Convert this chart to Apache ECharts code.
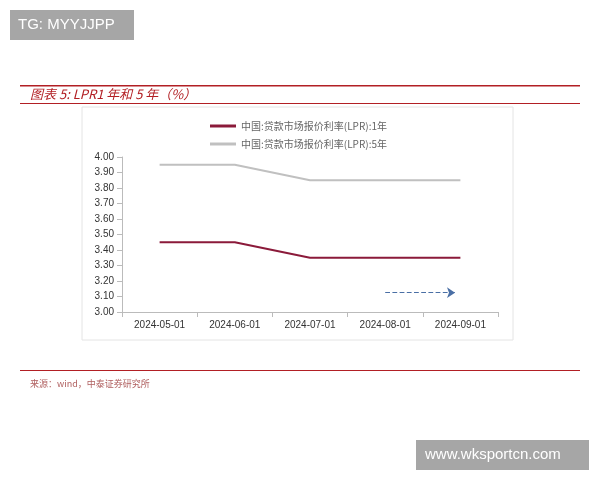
<!DOCTYPE html>
<html><head><meta charset="utf-8">
<script src="https://cdn.jsdelivr.net/npm/echarts@6/dist/echarts.min.js"></script>
<style>body{margin:0;background:#fff}#c{width:600px;height:480px}</style>
</head><body><div id="c"></div>
<script>
const categories = ["2024-05-01", "2024-06-01", "2024-07-01", "2024-08-01", "2024-09-01"];
const lpr1y = [3.45, 3.45, 3.35, 3.35, 3.35];
const lpr5y = [3.95, 3.95, 3.85, 3.85, 3.85];
const name1 = "中国:贷款市场报价利率(LPR):1年";
const name5 = "中国:贷款市场报价利率(LPR):5年";

const chart = echarts.init(document.getElementById("c"));
chart.setOption({
	animation: false,
	grid: { left: 122, right: 102, top: 157, bottom: 168 },
	legend: {
		top: 116, left: 205, orient: "vertical", itemGap: 8, itemWidth: 26, itemHeight: 3,
		icon: "rect",
		textStyle: { fontSize: 10, color: "#666", fontFamily: "Noto Sans CJK SC" },
		data: [name1, name5]
	},
	xAxis: {
		type: "category", data: categories, boundaryGap: true,
		axisLine: { lineStyle: { color: "#bbb" } },
		axisTick: { show: true, alignWithLabel: false, lineStyle: { color: "#bbb" } },
		axisLabel: { fontSize: 10, color: "#333", margin: 8 }
	},
	yAxis: {
		type: "value", min: 3.0, max: 4.0, interval: 0.1,
		axisLine: { show: true, lineStyle: { color: "#bbb" } },
		axisTick: { show: true, lineStyle: { color: "#bbb" } },
		splitLine: { show: false },
		axisLabel: { fontSize: 10, color: "#333", formatter: v => v.toFixed(2) }
	},
	series: [
		{ name: name1, type: "line", data: lpr1y, symbol: "none", lineStyle: { color: "#8b1a3a", width: 2 }, itemStyle: { color: "#8b1a3a" },
		  markLine: { silent: true, symbol: ["none", "arrow"], symbolSize: 8,
			lineStyle: { color: "#4a6fa5", type: "dashed", width: 1.2 }, label: { show: false },
			data: [[{ coord: ["2024-08-01", 3.125] }, { coord: ["2024-09-01", 3.125], x: 455 }]] } },
		{ name: name5, type: "line", data: lpr5y, symbol: "none", lineStyle: { color: "#c0c0c0", width: 2 }, itemStyle: { color: "#c0c0c0" } }
	],
	graphic: [
		{ type: "rect", shape: { x: 10, y: 10, width: 124, height: 30 }, style: { fill: "#a6a6a6" } },
		{ type: "text", left: 18, top: 17, style: { text: "TG: MYYJJPP", fill: "#fff", fontSize: 15, fontFamily: "Liberation Sans" } },
		{ type: "rect", shape: { x: 20, y: 85, width: 560, height: 1.5 }, style: { fill: "#b21f24" } },
		{ type: "text", left: 30, top: 88, style: { text: "图表 5: LPR1 年和 5 年（%）", fill: "#b21f24", fontSize: 13, fontStyle: "italic", fontFamily: "Noto Sans CJK SC" } },
		{ type: "rect", shape: { x: 20, y: 103, width: 560, height: 1 }, style: { fill: "#b21f24" } },
		{ type: "rect", shape: { x: 82, y: 107, width: 431, height: 233 }, style: { fill: "none", stroke: "#e4e4e4", lineWidth: 1 } },
		{ type: "rect", shape: { x: 20, y: 370, width: 560, height: 1 }, style: { fill: "#b21f24" } },
		{ type: "text", left: 30, top: 379, style: { text: "来源：wind，中泰证券研究所", fill: "#b06060", fontSize: 9, fontFamily: "Noto Sans CJK SC" } },
		{ type: "rect", shape: { x: 416, y: 440, width: 173, height: 30 }, style: { fill: "#a6a6a6" } },
		{ type: "text", left: 425, top: 447, style: { text: "www.wksportcn.com", fill: "#fff", fontSize: 15, fontFamily: "Liberation Sans" } }
	]
});
</script></body></html>
